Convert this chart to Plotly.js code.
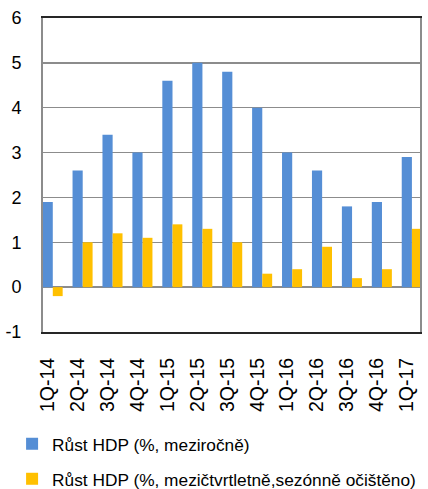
<!DOCTYPE html>
<html>
<head>
<meta charset="utf-8">
<script src="https://cdn.plot.ly/plotly-3.0.1.min.js"></script>
<style>html,body{margin:0;padding:0;background:#fff;}#chart{width:428px;height:489px;}</style>
</head>
<body>
<div id="chart"></div>
<script>
const categories = ["1Q-14","2Q-14","3Q-14","4Q-14","1Q-15","2Q-15","3Q-15","4Q-15","1Q-16","2Q-16","3Q-16","4Q-16","1Q-17"];
const yoyGrowth = [1.9, 2.6, 3.4, 3.0, 4.6, 5.0, 4.8, 4.0, 3.0, 2.6, 1.8, 1.9, 2.9];
const qoqGrowth = [-0.2, 1.0, 1.2, 1.1, 1.4, 1.3, 1.0, 0.3, 0.4, 0.9, 0.2, 0.4, 1.3];
const seriesNames = ["Růst HDP (%, meziročně)", "Růst HDP (%, mezičtvrtletně,sezónně očištěno)"];
const yTicks = [-1, 0, 1, 2, 3, 4, 5, 6];
const yTickText = ["-1", "0", "1", "2", "3", "4", "5", "6"];

const xIdx = categories.map((c, i) => i);
const font = "Liberation Sans, Arial, sans-serif";

const traces = [
  {type: "bar", x: xIdx, y: yoyGrowth, name: seriesNames[0], marker: {color: "#558ED5"},
   width: 0.34, offset: -0.17, legend: "legend"},
  {type: "bar", x: xIdx, y: qoqGrowth, name: seriesNames[1], marker: {color: "#FFC000"},
   width: 0.33, offset: 0.17, legend: "legend2"}
];

const layout = {
  width: 428, height: 489,
  margin: {l: 43, r: 8, t: 18, b: 157},
  paper_bgcolor: "#fff", plot_bgcolor: "#fff",
  barmode: "overlay",
  font: {family: font, color: "#000"},
  xaxis: {
    range: [-0.157, 12.44], automargin: false,
    tickmode: "array", tickvals: xIdx, ticktext: categories,
    tickangle: -90, tickfont: {size: 19.5, family: font},
    showgrid: false, zeroline: false,
    showline: true, linecolor: "#262626", linewidth: 2, mirror: true,
    ticks: "", ticklabelstandoff: 16
  },
  yaxis: {
    range: [-1, 6], automargin: false, tickmode: "array", tickvals: yTicks, ticktext: yTickText,
    tickfont: {size: 18, family: font},
    showgrid: true, gridcolor: "#8c8c8c", gridwidth: 1.5,
    zeroline: true, zerolinecolor: "#8c8c8c", zerolinewidth: 2,
    showline: true, linecolor: "#8c8c8c", linewidth: 2, mirror: true,
    ticks: "", ticklabelstandoff: 16
  },
  showlegend: true,
  legend: {x: -0.082, xanchor: "left", yref: "container", y: 0.092, yanchor: "middle",
           font: {size: 17.3, family: font, color: "#000"}, bgcolor: "rgba(0,0,0,0)"},
  legend2: {x: -0.082, xanchor: "left", yref: "container", y: 0.0204, yanchor: "middle",
           font: {size: 17.3, family: font, color: "#000"}, bgcolor: "rgba(0,0,0,0)"}
};

Plotly.newPlot("chart", traces, layout, {displayModeBar: false, staticPlot: true});
</script>
</body>
</html>
